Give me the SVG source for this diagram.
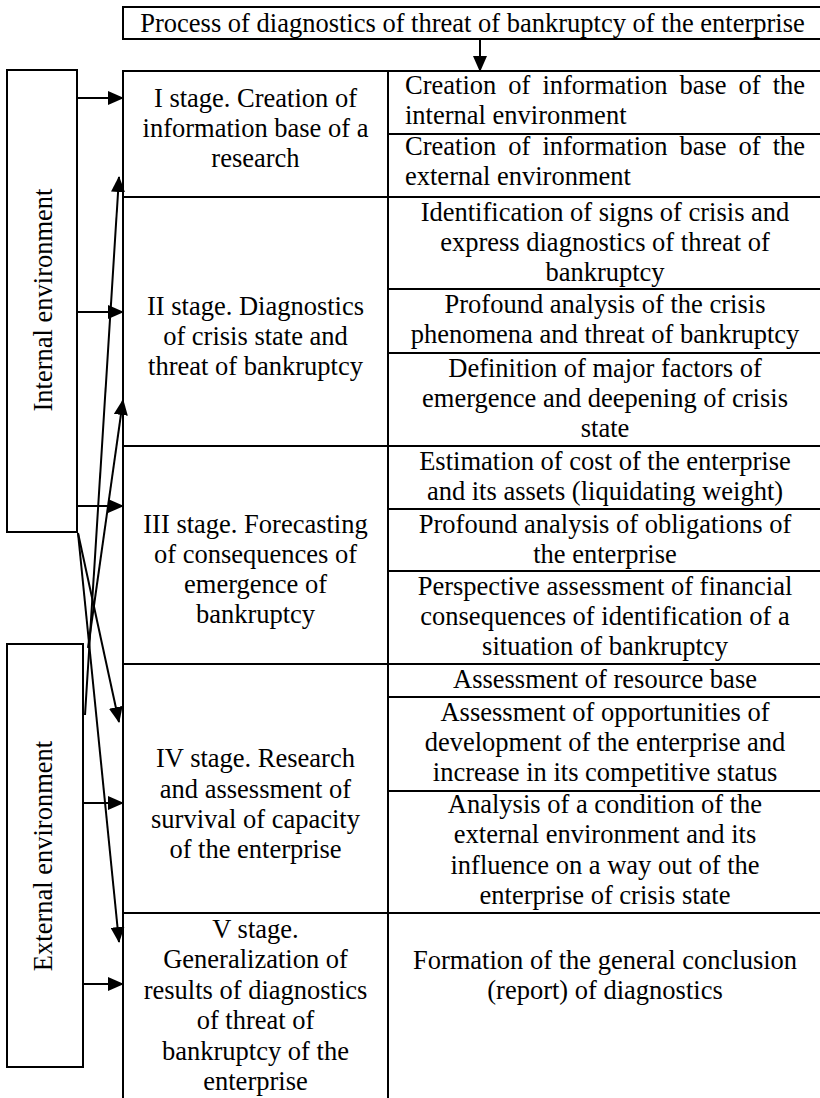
<svg xmlns="http://www.w3.org/2000/svg" width="820" height="1098" viewBox="0 0 820 1098">
  <style>
    .box { fill: #ffffff; stroke: #000000; stroke-width: 2; }
    .rule { stroke: #000000; stroke-width: 2; fill: none; }
    .conn { stroke: #000000; stroke-width: 2; fill: none; marker-end: url(#arrow); }
    text { font-family: "Liberation Serif", "Times New Roman", serif; font-size: 26.5px; fill: #000000; }
    .c { text-anchor: middle; }
  </style>
  <defs>
    <marker id="arrow" viewBox="0 0 16 14" refX="15" refY="7" markerWidth="16" markerHeight="14" markerUnits="userSpaceOnUse" orient="auto">
      <path d="M0,0 L16,7 L0,14 z" fill="#000000"/>
    </marker>
  </defs>
  <rect width="820" height="1098" fill="#ffffff"/>

  <!-- title -->
  <g id="title">
    <rect class="box" x="123" y="7" width="700" height="32"/>
    <text class="c" x="472.5" y="32">Process of diagnostics of threat of bankruptcy of the enterprise</text>
  </g>

  <!-- environment blocks -->
  <g id="internal-env">
    <rect class="box" x="7" y="70" width="70" height="462"/>
    <text class="c" transform="translate(52,300) rotate(-90)">Internal environment</text>
  </g>
  <g id="external-env">
    <rect class="box" x="7" y="644" width="76" height="423"/>
    <text class="c" transform="translate(52,856) rotate(-90)">External environment</text>
  </g>

  <!-- table frame -->
  <g id="table-frame">
    <rect class="box" x="123" y="71" width="700" height="1040"/>
    <line class="rule" x1="388" y1="71" x2="388" y2="1098"/>
  </g>

  <!-- stage I -->
  <g id="stage-1">
    <line class="rule" x1="123" y1="197" x2="823" y2="197"/>
    <text class="c" x="255.5" y="107">I stage. Creation of</text>
    <text class="c" x="255.5" y="137">information base of a</text>
    <text class="c" x="255.5" y="167">research</text>
  </g>
  <g id="task-1-1">
    <line class="rule" x1="388" y1="134" x2="823" y2="134"/>
    <text y="94"><tspan x="405">Creation</tspan><tspan x="508.3">of</tspan><tspan x="542.4">information</tspan><tspan x="679.5">base</tspan><tspan x="738.6">of</tspan><tspan x="772.7">the</tspan></text>
    <text x="405" y="124">internal environment</text>
  </g>
  <g id="task-1-2">
    <text y="155"><tspan x="405">Creation</tspan><tspan x="508.3">of</tspan><tspan x="542.4">information</tspan><tspan x="679.5">base</tspan><tspan x="738.6">of</tspan><tspan x="772.7">the</tspan></text>
    <text x="405" y="185">external environment</text>
  </g>

  <!-- stage II -->
  <g id="stage-2">
    <line class="rule" x1="123" y1="446" x2="823" y2="446"/>
    <text class="c" x="255.5" y="315">II stage. Diagnostics</text>
    <text class="c" x="255.5" y="345">of crisis state and</text>
    <text class="c" x="255.5" y="375">threat of bankruptcy</text>
  </g>
  <g id="task-2-1">
    <line class="rule" x1="388" y1="289" x2="823" y2="289"/>
    <text class="c" x="605" y="221">Identification of signs of crisis and</text>
    <text class="c" x="605" y="251">express diagnostics of threat of</text>
    <text class="c" x="605" y="281">bankruptcy</text>
  </g>
  <g id="task-2-2">
    <line class="rule" x1="388" y1="353" x2="823" y2="353"/>
    <text class="c" x="605" y="313">Profound analysis of the crisis</text>
    <text class="c" x="605" y="343">phenomena and threat of bankruptcy</text>
  </g>
  <g id="task-2-3">
    <text class="c" x="605" y="377">Definition of major factors of</text>
    <text class="c" x="605" y="407">emergence and deepening of crisis</text>
    <text class="c" x="605" y="437">state</text>
  </g>

  <!-- stage III -->
  <g id="stage-3">
    <line class="rule" x1="123" y1="664" x2="823" y2="664"/>
    <text class="c" x="255.5" y="533">III stage. Forecasting</text>
    <text class="c" x="255.5" y="563">of consequences of</text>
    <text class="c" x="255.5" y="593">emergence of</text>
    <text class="c" x="255.5" y="623">bankruptcy</text>
  </g>
  <g id="task-3-1">
    <line class="rule" x1="388" y1="509" x2="823" y2="509"/>
    <text class="c" x="605" y="470">Estimation of cost of the enterprise</text>
    <text class="c" x="605" y="500">and its assets (liquidating weight)</text>
  </g>
  <g id="task-3-2">
    <line class="rule" x1="388" y1="571" x2="823" y2="571"/>
    <text class="c" x="605" y="533">Profound analysis of obligations of</text>
    <text class="c" x="605" y="563">the enterprise</text>
  </g>
  <g id="task-3-3">
    <text class="c" x="605" y="595">Perspective assessment of financial</text>
    <text class="c" x="605" y="625">consequences of identification of a</text>
    <text class="c" x="605" y="655">situation of bankruptcy</text>
  </g>

  <!-- stage IV -->
  <g id="stage-4">
    <line class="rule" x1="123" y1="913" x2="823" y2="913"/>
    <text class="c" x="255.5" y="767">IV stage. Research</text>
    <text class="c" x="255.5" y="797.5">and assessment of</text>
    <text class="c" x="255.5" y="828">survival of capacity</text>
    <text class="c" x="255.5" y="858">of the enterprise</text>
  </g>
  <g id="task-4-1">
    <line class="rule" x1="388" y1="697" x2="823" y2="697"/>
    <text class="c" x="605" y="688">Assessment of resource base</text>
  </g>
  <g id="task-4-2">
    <line class="rule" x1="388" y1="791" x2="823" y2="791"/>
    <text class="c" x="605" y="721">Assessment of opportunities of</text>
    <text class="c" x="605" y="751">development of the enterprise and</text>
    <text class="c" x="605" y="781">increase in its competitive status</text>
  </g>
  <g id="task-4-3">
    <text class="c" x="605" y="813">Analysis of a condition of the</text>
    <text class="c" x="605" y="843">external environment and its</text>
    <text class="c" x="605" y="874">influence on a way out of the</text>
    <text class="c" x="605" y="904">enterprise of crisis state</text>
  </g>

  <!-- stage V -->
  <g id="stage-5">
    <text class="c" x="255.5" y="938">V stage.</text>
    <text class="c" x="255.5" y="968">Generalization of</text>
    <text class="c" x="255.5" y="999">results of diagnostics</text>
    <text class="c" x="255.5" y="1029">of threat of</text>
    <text class="c" x="255.5" y="1060">bankruptcy of the</text>
    <text class="c" x="255.5" y="1090">enterprise</text>
  </g>
  <g id="task-5-1">
    <text class="c" x="605" y="969">Formation of the general conclusion</text>
    <text class="c" x="605" y="999">(report) of diagnostics</text>
  </g>

  <!-- connectors -->
  <g id="connectors">
    <line class="conn" x1="480" y1="39" x2="480" y2="71"/>
    <line class="conn" x1="77" y1="98" x2="123" y2="98"/>
    <line class="conn" x1="77" y1="312" x2="123" y2="312"/>
    <line class="conn" x1="77" y1="506" x2="123" y2="506"/>
    <line class="conn" x1="83" y1="803" x2="123" y2="803"/>
    <line class="conn" x1="83" y1="984" x2="123" y2="984"/>
    <line class="conn" x1="85" y1="715" x2="119" y2="177"/>
    <line class="conn" x1="88" y1="648" x2="123" y2="400"/>
    <line class="conn" x1="78" y1="533" x2="119" y2="722"/>
    <line class="conn" x1="78" y1="533" x2="119" y2="942"/>
  </g>
</svg>
